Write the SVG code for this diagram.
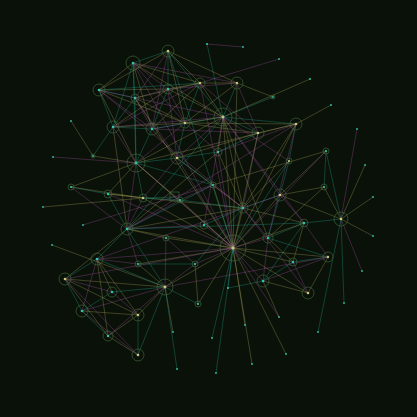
<svg xmlns="http://www.w3.org/2000/svg" width="417" height="417" viewBox="0 0 417 417">
<style>
line{stroke-width:0.55;opacity:0.62}
.t{stroke:#22a38e}.m{stroke:#a04fa2}.k{stroke:#a6a25e}
.ring{fill:none;stroke:#41683a;stroke-width:0.65}
.dot{fill:#2fc4a4}.hub{fill:#c8c878}
</style>
<rect width="417" height="417" fill="#0a1108"/>
<g id="edges">
<line class="t" x1="133" y1="63" x2="168" y2="51"/><line class="k" x1="133" y1="63" x2="99" y2="90"/><line class="t" x1="133" y1="63" x2="135" y2="98"/><line class="m" x1="133" y1="63" x2="168" y2="89"/><line class="k" x1="133" y1="63" x2="200" y2="83"/><line class="m" x1="133" y1="63" x2="237" y2="83"/><line class="t" x1="133" y1="63" x2="113" y2="127"/><line class="k" x1="133" y1="63" x2="152" y2="129"/><line class="m" x1="133" y1="63" x2="185" y2="123"/><line class="k" x1="133" y1="63" x2="223" y2="117"/><line class="t" x1="133" y1="63" x2="136" y2="163"/>
<line class="k" x1="168" y1="51" x2="99" y2="90"/><line class="m" x1="168" y1="51" x2="135" y2="98"/><line class="t" x1="168" y1="51" x2="168" y2="89"/><line class="k" x1="168" y1="51" x2="200" y2="83"/><line class="k" x1="168" y1="51" x2="237" y2="83"/><line class="m" x1="168" y1="51" x2="152" y2="129"/><line class="k" x1="168" y1="51" x2="185" y2="123"/><line class="t" x1="168" y1="51" x2="223" y2="117"/>
<line class="t" x1="99" y1="90" x2="135" y2="98"/><line class="k" x1="99" y1="90" x2="168" y2="89"/><line class="t" x1="99" y1="90" x2="200" y2="83"/><line class="t" x1="99" y1="90" x2="113" y2="127"/><line class="m" x1="99" y1="90" x2="152" y2="129"/><line class="k" x1="99" y1="90" x2="185" y2="123"/><line class="m" x1="99" y1="90" x2="223" y2="117"/><line class="k" x1="99" y1="90" x2="136" y2="163"/>
<line class="m" x1="135" y1="98" x2="168" y2="89"/><line class="k" x1="135" y1="98" x2="200" y2="83"/><line class="t" x1="135" y1="98" x2="113" y2="127"/><line class="m" x1="135" y1="98" x2="152" y2="129"/><line class="k" x1="135" y1="98" x2="185" y2="123"/><line class="m" x1="135" y1="98" x2="177" y2="158"/><line class="t" x1="135" y1="98" x2="136" y2="163"/>
<line class="k" x1="168" y1="89" x2="200" y2="83"/><line class="m" x1="168" y1="89" x2="237" y2="83"/><line class="k" x1="168" y1="89" x2="113" y2="127"/><line class="t" x1="168" y1="89" x2="152" y2="129"/><line class="m" x1="168" y1="89" x2="185" y2="123"/><line class="k" x1="168" y1="89" x2="223" y2="117"/><line class="m" x1="168" y1="89" x2="177" y2="158"/>
<line class="k" x1="200" y1="83" x2="237" y2="83"/><line class="m" x1="200" y1="83" x2="113" y2="127"/><line class="t" x1="200" y1="83" x2="185" y2="123"/><line class="k" x1="200" y1="83" x2="223" y2="117"/><line class="m" x1="200" y1="83" x2="258" y2="133"/><line class="k" x1="200" y1="83" x2="152" y2="129"/><line class="m" x1="200" y1="83" x2="279" y2="59"/>
<line class="t" x1="237" y1="83" x2="223" y2="117"/><line class="k" x1="237" y1="83" x2="185" y2="123"/><line class="k" x1="237" y1="83" x2="273" y2="97"/><line class="m" x1="237" y1="83" x2="258" y2="133"/>
<line class="t" x1="113" y1="127" x2="152" y2="129"/><line class="k" x1="113" y1="127" x2="185" y2="123"/><line class="m" x1="113" y1="127" x2="136" y2="163"/><line class="t" x1="113" y1="127" x2="93" y2="156"/><line class="k" x1="113" y1="127" x2="127" y2="229"/><line class="m" x1="113" y1="127" x2="223" y2="117"/>
<line class="m" x1="152" y1="129" x2="185" y2="123"/><line class="t" x1="152" y1="129" x2="223" y2="117"/><line class="k" x1="152" y1="129" x2="177" y2="158"/><line class="t" x1="152" y1="129" x2="136" y2="163"/><line class="m" x1="152" y1="129" x2="258" y2="133"/>
<line class="k" x1="185" y1="123" x2="223" y2="117"/><line class="t" x1="185" y1="123" x2="177" y2="158"/><line class="m" x1="185" y1="123" x2="136" y2="163"/><line class="k" x1="185" y1="123" x2="258" y2="133"/><line class="m" x1="185" y1="123" x2="218" y2="152"/>
<line class="m" x1="223" y1="117" x2="177" y2="158"/><line class="k" x1="223" y1="117" x2="136" y2="163"/><line class="t" x1="223" y1="117" x2="258" y2="133"/><line class="k" x1="223" y1="117" x2="218" y2="152"/><line class="t" x1="223" y1="117" x2="296" y2="124"/><line class="m" x1="223" y1="117" x2="289" y2="161"/><line class="k" x1="223" y1="117" x2="243" y2="208"/><line class="m" x1="223" y1="117" x2="280" y2="195"/><line class="k" x1="223" y1="117" x2="310" y2="79"/><line class="t" x1="223" y1="117" x2="273" y2="97"/><line class="t" x1="223" y1="117" x2="207" y2="44"/>
<line class="m" x1="207" y1="44" x2="243" y2="47"/><line class="k" x1="331" y1="105" x2="296" y2="124"/>
<line class="k" x1="296" y1="124" x2="258" y2="133"/><line class="t" x1="296" y1="124" x2="289" y2="161"/><line class="m" x1="296" y1="124" x2="218" y2="152"/><line class="k" x1="296" y1="124" x2="185" y2="123"/><line class="m" x1="296" y1="124" x2="127" y2="229"/><line class="k" x1="296" y1="124" x2="243" y2="208"/><line class="k" x1="296" y1="124" x2="136" y2="163"/>
<line class="t" x1="258" y1="133" x2="218" y2="152"/><line class="m" x1="258" y1="133" x2="243" y2="208"/><line class="k" x1="258" y1="133" x2="233" y2="248"/><line class="k" x1="258" y1="133" x2="177" y2="158"/>
<line class="m" x1="218" y1="152" x2="233" y2="248"/><line class="k" x1="218" y1="152" x2="127" y2="229"/><line class="t" x1="218" y1="152" x2="177" y2="158"/><line class="k" x1="218" y1="152" x2="243" y2="208"/>
<line class="t" x1="289" y1="161" x2="280" y2="195"/><line class="k" x1="289" y1="161" x2="243" y2="208"/>
<line class="t" x1="326" y1="151" x2="341" y2="219"/><line class="k" x1="326" y1="151" x2="280" y2="195"/><line class="t" x1="326" y1="151" x2="324" y2="187"/>
<line class="m" x1="357" y1="129" x2="341" y2="219"/><line class="k" x1="365" y1="165" x2="341" y2="219"/><line class="k" x1="373" y1="197" x2="341" y2="219"/><line class="k" x1="373" y1="236" x2="341" y2="219"/><line class="m" x1="362" y1="271" x2="341" y2="219"/><line class="t" x1="344" y1="303" x2="341" y2="219"/><line class="t" x1="318" y1="332" x2="341" y2="219"/><line class="t" x1="304" y1="223" x2="341" y2="219"/><line class="k" x1="324" y1="187" x2="341" y2="219"/><line class="k" x1="324" y1="187" x2="268" y2="238"/>
<line class="t" x1="136" y1="163" x2="177" y2="158"/><line class="k" x1="136" y1="163" x2="108" y2="194"/><line class="t" x1="136" y1="163" x2="143" y2="198"/><line class="m" x1="136" y1="163" x2="127" y2="229"/><line class="k" x1="136" y1="163" x2="71" y2="187"/><line class="m" x1="136" y1="163" x2="180" y2="200"/><line class="k" x1="136" y1="163" x2="175" y2="197"/><line class="t" x1="136" y1="163" x2="213" y2="185"/><line class="k" x1="136" y1="163" x2="93" y2="156"/><line class="m" x1="136" y1="163" x2="53" y2="157"/><line class="k" x1="136" y1="163" x2="233" y2="248"/>
<line class="m" x1="177" y1="158" x2="233" y2="248"/><line class="k" x1="177" y1="158" x2="243" y2="208"/><line class="m" x1="177" y1="158" x2="143" y2="198"/><line class="t" x1="177" y1="158" x2="213" y2="185"/>
<line class="t" x1="71" y1="187" x2="108" y2="194"/><line class="k" x1="71" y1="187" x2="143" y2="198"/><line class="m" x1="71" y1="187" x2="127" y2="229"/>
<line class="k" x1="108" y1="194" x2="143" y2="198"/><line class="m" x1="108" y1="194" x2="233" y2="248"/><line class="k" x1="108" y1="194" x2="243" y2="208"/><line class="t" x1="108" y1="194" x2="127" y2="229"/>
<line class="t" x1="143" y1="198" x2="180" y2="200"/><line class="k" x1="143" y1="198" x2="233" y2="248"/><line class="m" x1="143" y1="198" x2="127" y2="229"/><line class="t" x1="143" y1="198" x2="175" y2="197"/>
<line class="k" x1="43" y1="207" x2="143" y2="198"/><line class="m" x1="83" y1="225" x2="213" y2="185"/><line class="k" x1="52" y1="245" x2="165" y2="287"/><line class="k" x1="93" y1="156" x2="71" y2="121"/>
<line class="t" x1="127" y1="229" x2="97" y2="259"/><line class="k" x1="127" y1="229" x2="233" y2="248"/><line class="m" x1="127" y1="229" x2="204" y2="225"/><line class="k" x1="127" y1="229" x2="243" y2="208"/><line class="t" x1="127" y1="229" x2="213" y2="185"/><line class="m" x1="127" y1="229" x2="180" y2="200"/><line class="k" x1="127" y1="229" x2="166" y2="238"/><line class="m" x1="127" y1="229" x2="138" y2="264"/><line class="k" x1="127" y1="229" x2="65" y2="279"/><line class="t" x1="127" y1="229" x2="165" y2="287"/>
<line class="k" x1="180" y1="200" x2="233" y2="248"/><line class="m" x1="180" y1="200" x2="213" y2="185"/><line class="t" x1="180" y1="200" x2="243" y2="208"/><line class="m" x1="175" y1="197" x2="233" y2="248"/><line class="k" x1="213" y1="185" x2="233" y2="248"/><line class="k" x1="213" y1="185" x2="326" y2="151"/><line class="m" x1="204" y1="225" x2="233" y2="248"/><line class="k" x1="166" y1="238" x2="233" y2="248"/><line class="t" x1="204" y1="225" x2="243" y2="208"/><line class="m" x1="166" y1="238" x2="195" y2="264"/><line class="m" x1="213" y1="185" x2="243" y2="208"/>
<line class="k" x1="243" y1="208" x2="233" y2="248"/><line class="t" x1="243" y1="208" x2="280" y2="195"/><line class="m" x1="243" y1="208" x2="268" y2="238"/><line class="k" x1="243" y1="208" x2="304" y2="223"/>
<line class="k" x1="280" y1="195" x2="233" y2="248"/><line class="m" x1="280" y1="195" x2="304" y2="223"/><line class="t" x1="280" y1="195" x2="268" y2="238"/><line class="k" x1="280" y1="195" x2="324" y2="187"/>
<line class="t" x1="304" y1="223" x2="268" y2="238"/><line class="k" x1="304" y1="223" x2="233" y2="248"/><line class="m" x1="304" y1="223" x2="328" y2="257"/><line class="k" x1="304" y1="223" x2="293" y2="262"/><line class="t" x1="304" y1="223" x2="263" y2="281"/>
<line class="m" x1="268" y1="238" x2="233" y2="248"/><line class="k" x1="268" y1="238" x2="293" y2="262"/><line class="t" x1="268" y1="238" x2="328" y2="257"/><line class="m" x1="268" y1="238" x2="263" y2="281"/>
<line class="k" x1="328" y1="257" x2="233" y2="248"/><line class="t" x1="328" y1="257" x2="293" y2="262"/><line class="m" x1="328" y1="257" x2="263" y2="281"/><line class="k" x1="328" y1="257" x2="308" y2="293"/><line class="m" x1="328" y1="257" x2="165" y2="287"/>
<line class="k" x1="293" y1="262" x2="233" y2="248"/><line class="t" x1="293" y1="262" x2="263" y2="281"/><line class="m" x1="293" y1="262" x2="308" y2="293"/>
<line class="m" x1="263" y1="281" x2="233" y2="248"/><line class="k" x1="263" y1="281" x2="308" y2="293"/><line class="t" x1="263" y1="281" x2="228" y2="288"/><line class="k" x1="308" y1="293" x2="233" y2="248"/><line class="m" x1="308" y1="293" x2="243" y2="208"/>
<line class="t" x1="97" y1="259" x2="65" y2="279"/><line class="k" x1="97" y1="259" x2="112" y2="292"/><line class="m" x1="97" y1="259" x2="82" y2="311"/><line class="k" x1="97" y1="259" x2="138" y2="315"/><line class="t" x1="97" y1="259" x2="165" y2="287"/><line class="m" x1="97" y1="259" x2="138" y2="264"/><line class="k" x1="97" y1="259" x2="108" y2="336"/><line class="m" x1="97" y1="259" x2="233" y2="248"/>
<line class="k" x1="165" y1="287" x2="65" y2="279"/><line class="t" x1="165" y1="287" x2="112" y2="292"/><line class="m" x1="165" y1="287" x2="82" y2="311"/><line class="k" x1="165" y1="287" x2="138" y2="315"/><line class="m" x1="165" y1="287" x2="108" y2="336"/><line class="t" x1="165" y1="287" x2="138" y2="355"/><line class="k" x1="165" y1="287" x2="173" y2="332"/><line class="t" x1="165" y1="287" x2="177" y2="369"/><line class="k" x1="165" y1="287" x2="138" y2="264"/><line class="m" x1="165" y1="287" x2="195" y2="264"/><line class="t" x1="165" y1="287" x2="198" y2="304"/><line class="k" x1="165" y1="287" x2="233" y2="248"/><line class="m" x1="165" y1="287" x2="166" y2="238"/>
<line class="t" x1="65" y1="279" x2="82" y2="311"/><line class="k" x1="65" y1="279" x2="108" y2="336"/><line class="m" x1="65" y1="279" x2="138" y2="355"/><line class="k" x1="65" y1="279" x2="138" y2="315"/><line class="m" x1="65" y1="279" x2="112" y2="292"/>
<line class="t" x1="82" y1="311" x2="108" y2="336"/><line class="k" x1="82" y1="311" x2="138" y2="315"/><line class="m" x1="82" y1="311" x2="138" y2="355"/><line class="t" x1="82" y1="311" x2="112" y2="292"/>
<line class="t" x1="138" y1="315" x2="138" y2="355"/><line class="k" x1="138" y1="315" x2="108" y2="336"/><line class="m" x1="138" y1="315" x2="112" y2="292"/><line class="k" x1="108" y1="336" x2="138" y2="355"/>
<line class="t" x1="138" y1="264" x2="195" y2="264"/><line class="k" x1="138" y1="264" x2="233" y2="248"/><line class="k" x1="195" y1="264" x2="198" y2="304"/><line class="m" x1="195" y1="264" x2="233" y2="248"/><line class="t" x1="195" y1="264" x2="243" y2="208"/><line class="k" x1="198" y1="304" x2="233" y2="248"/>
<line class="k" x1="233" y1="248" x2="245" y2="325"/><line class="t" x1="233" y1="248" x2="212" y2="338"/><line class="t" x1="233" y1="248" x2="216" y2="373"/><line class="k" x1="233" y1="248" x2="252" y2="364"/><line class="k" x1="233" y1="248" x2="286" y2="354"/><line class="m" x1="233" y1="248" x2="279" y2="317"/><line class="t" x1="233" y1="248" x2="228" y2="288"/><line class="k" x1="263" y1="281" x2="279" y2="317"/>
<line class="m" x1="133" y1="63" x2="233" y2="248"/><line class="k" x1="135" y1="98" x2="233" y2="248"/><line class="t" x1="168" y1="51" x2="233" y2="248"/><line class="m" x1="200" y1="83" x2="233" y2="248"/><line class="k" x1="223" y1="117" x2="233" y2="248"/><line class="m" x1="99" y1="90" x2="243" y2="208"/><line class="t" x1="223" y1="117" x2="127" y2="229"/><line class="k" x1="223" y1="117" x2="268" y2="238"/><line class="m" x1="223" y1="117" x2="304" y2="223"/><line class="k" x1="237" y1="83" x2="233" y2="248"/><line class="m" x1="296" y1="124" x2="268" y2="238"/><line class="t" x1="289" y1="161" x2="233" y2="248"/><line class="m" x1="326" y1="151" x2="233" y2="248"/><line class="k" x1="296" y1="124" x2="233" y2="248"/><line class="m" x1="204" y1="225" x2="223" y2="117"/><line class="m" x1="280" y1="195" x2="97" y2="259"/><line class="t" x1="304" y1="223" x2="127" y2="229"/><line class="k" x1="341" y1="219" x2="280" y2="195"/><line class="m" x1="65" y1="279" x2="233" y2="248"/>
</g>
<g id="nodes">
<g id="n1"><circle class="ring" cx="133" cy="63" r="7"/><circle class="dot" cx="133" cy="63" r="1.3"/></g>
<g id="n2"><circle class="ring" cx="168" cy="51" r="6"/><circle class="hub" cx="168" cy="51" r="1.3"/></g>
<g id="n3"><circle class="ring" cx="99" cy="90" r="6"/><circle class="dot" cx="99" cy="90" r="1.3"/></g>
<g id="n4"><circle class="ring" cx="135" cy="98" r="4"/><circle class="dot" cx="135" cy="98" r="1.2"/></g>
<g id="n5"><circle class="ring" cx="168" cy="89" r="5"/><circle class="dot" cx="168" cy="89" r="1.2"/></g>
<g id="n6"><circle class="ring" cx="200" cy="83" r="5"/><circle class="hub" cx="200" cy="83" r="1.2"/></g>
<g id="n7"><circle class="ring" cx="237" cy="83" r="6"/><circle class="hub" cx="237" cy="83" r="1.2"/></g>
<g id="n8"><circle class="ring" cx="113" cy="127" r="6"/><circle class="dot" cx="113" cy="127" r="1.3"/></g>
<g id="n9"><circle class="ring" cx="152" cy="129" r="6"/><circle class="dot" cx="152" cy="129" r="1.3"/></g>
<g id="n10"><circle class="ring" cx="185" cy="123" r="5"/><circle class="hub" cx="185" cy="123" r="1.2"/></g>
<g id="n11"><circle class="ring" cx="223" cy="117" r="9"/><circle class="hub" cx="223" cy="117" r="1.4"/></g>
<g id="n12"><circle class="ring" cx="177" cy="158" r="6"/><circle class="hub" cx="177" cy="158" r="1.3"/></g>
<g id="n13"><circle class="ring" cx="136" cy="163" r="9"/><circle class="dot" cx="136" cy="163" r="1.4"/></g>
<g id="n14"><circle class="dot" cx="207" cy="44" r="1.1"/></g>
<g id="n15"><circle class="dot" cx="243" cy="47" r="0.9"/></g>
<g id="n16"><circle class="dot" cx="279" cy="59" r="0.9"/></g>
<g id="n17"><circle class="dot" cx="310" cy="79" r="1"/></g>
<g id="n18"><circle class="ring" cx="273" cy="97" r="2"/><circle class="dot" cx="273" cy="97" r="0.9"/></g>
<g id="n19"><circle class="dot" cx="331" cy="105" r="0.9"/></g>
<g id="n20"><circle class="ring" cx="296" cy="124" r="6"/><circle class="hub" cx="296" cy="124" r="1.3"/></g>
<g id="n21"><circle class="ring" cx="258" cy="133" r="6"/><circle class="hub" cx="258" cy="133" r="1.3"/></g>
<g id="n22"><circle class="ring" cx="218" cy="152" r="4"/><circle class="dot" cx="218" cy="152" r="1.2"/></g>
<g id="n23"><circle class="ring" cx="289" cy="161" r="3"/><circle class="hub" cx="289" cy="161" r="1.1"/></g>
<g id="n24"><circle class="ring" cx="326" cy="151" r="3"/><circle class="dot" cx="326" cy="151" r="1.1"/></g>
<g id="n25"><circle class="dot" cx="357" cy="129" r="0.9"/></g>
<g id="n26"><circle class="dot" cx="365" cy="165" r="0.9"/></g>
<g id="n27"><circle class="ring" cx="71" cy="187" r="3"/><circle class="dot" cx="71" cy="187" r="1.1"/></g>
<g id="n28"><circle class="ring" cx="108" cy="194" r="4"/><circle class="dot" cx="108" cy="194" r="1.2"/></g>
<g id="n29"><circle class="ring" cx="143" cy="198" r="4"/><circle class="hub" cx="143" cy="198" r="1.2"/></g>
<g id="n30"><rect class="ring" x="170" y="192" width="9" height="9"/></g>
<g id="n31"><circle class="ring" cx="180" cy="200" r="3"/><circle class="dot" cx="180" cy="200" r="1.1"/></g>
<g id="n32"><circle class="dot" cx="43" cy="207" r="0.9"/></g>
<g id="n33"><circle class="dot" cx="83" cy="225" r="0.9"/></g>
<g id="n34"><circle class="ring" cx="127" cy="229" r="6"/><circle class="dot" cx="127" cy="229" r="1.3"/></g>
<g id="n35"><circle class="ring" cx="166" cy="238" r="3"/><circle class="dot" cx="166" cy="238" r="1.1"/></g>
<g id="n36"><circle class="ring" cx="204" cy="225" r="4"/><circle class="dot" cx="204" cy="225" r="1.2"/></g>
<g id="n37"><circle class="ring" cx="213" cy="185" r="3"/><circle class="dot" cx="213" cy="185" r="1.1"/></g>
<g id="n38"><circle class="ring" cx="243" cy="208" r="5"/><circle class="dot" cx="243" cy="208" r="1.2"/></g>
<g id="n39"><circle class="ring" cx="280" cy="195" r="6"/><circle class="hub" cx="280" cy="195" r="1.3"/></g>
<g id="n40"><circle class="ring" cx="324" cy="187" r="3"/><circle class="dot" cx="324" cy="187" r="1.1"/></g>
<g id="n41"><circle class="dot" cx="373" cy="197" r="0.9"/></g>
<g id="n42"><circle class="ring" cx="341" cy="219" r="7"/><circle class="hub" cx="341" cy="219" r="1.3"/></g>
<g id="n43"><circle class="ring" cx="304" cy="223" r="4"/><circle class="dot" cx="304" cy="223" r="1.2"/></g>
<g id="n44"><circle class="ring" cx="268" cy="238" r="5"/><circle class="dot" cx="268" cy="238" r="1.2"/></g>
<g id="n45"><circle class="ring" cx="233" cy="248" r="13"/><circle class="hub" cx="233" cy="248" r="1.6"/></g>
<g id="n46"><circle class="dot" cx="373" cy="236" r="0.9"/></g>
<g id="n47"><circle class="ring" cx="328" cy="257" r="5"/><circle class="hub" cx="328" cy="257" r="1.2"/></g>
<g id="n48"><circle class="ring" cx="293" cy="262" r="4"/><circle class="dot" cx="293" cy="262" r="1.2"/></g>
<g id="n49"><circle class="ring" cx="263" cy="281" r="6"/><circle class="dot" cx="263" cy="281" r="1.3"/></g>
<g id="n50"><circle class="dot" cx="362" cy="271" r="0.9"/></g>
<g id="n51"><circle class="dot" cx="52" cy="245" r="0.9"/></g>
<g id="n52"><circle class="ring" cx="97" cy="259" r="6"/><circle class="dot" cx="97" cy="259" r="1.3"/></g>
<g id="n53"><circle class="ring" cx="138" cy="264" r="3"/><circle class="dot" cx="138" cy="264" r="1.1"/></g>
<g id="n54"><circle class="ring" cx="195" cy="264" r="3"/><circle class="dot" cx="195" cy="264" r="1.1"/></g>
<g id="n55"><circle class="ring" cx="65" cy="279" r="6"/><circle class="hub" cx="65" cy="279" r="1.3"/></g>
<g id="n56"><circle class="ring" cx="165" cy="287" r="8"/><circle class="hub" cx="165" cy="287" r="1.4"/></g>
<g id="n57"><circle class="ring" cx="112" cy="292" r="5"/><circle class="dot" cx="112" cy="292" r="1.2"/></g>
<g id="n58"><circle class="ring" cx="82" cy="311" r="6"/><circle class="dot" cx="82" cy="311" r="1.3"/></g>
<g id="n59"><circle class="ring" cx="138" cy="315" r="6"/><circle class="hub" cx="138" cy="315" r="1.3"/></g>
<g id="n60"><circle class="ring" cx="198" cy="304" r="3"/><circle class="dot" cx="198" cy="304" r="1.1"/></g>
<g id="n61"><circle class="ring" cx="108" cy="336" r="5"/><circle class="dot" cx="108" cy="336" r="1.2"/></g>
<g id="n62"><circle class="dot" cx="173" cy="332" r="0.9"/></g>
<g id="n63"><circle class="ring" cx="138" cy="355" r="6"/><circle class="hub" cx="138" cy="355" r="1.3"/></g>
<g id="n64"><circle class="dot" cx="177" cy="369" r="0.9"/></g>
<g id="n65"><circle class="ring" cx="308" cy="293" r="6"/><circle class="hub" cx="308" cy="293" r="1.3"/></g>
<g id="n66"><circle class="dot" cx="228" cy="288" r="1"/></g>
<g id="n67"><circle class="dot" cx="344" cy="303" r="0.9"/></g>
<g id="n68"><circle class="dot" cx="279" cy="317" r="0.9"/></g>
<g id="n69"><circle class="dot" cx="318" cy="332" r="0.9"/></g>
<g id="n70"><circle class="dot" cx="245" cy="325" r="0.9"/></g>
<g id="n71"><circle class="dot" cx="212" cy="338" r="0.9"/></g>
<g id="n72"><circle class="dot" cx="286" cy="354" r="0.9"/></g>
<g id="n73"><circle class="dot" cx="252" cy="364" r="0.9"/></g>
<g id="n74"><circle class="dot" cx="216" cy="373" r="0.9"/></g>
<g id="n75"><circle class="ring" cx="93" cy="156" r="2"/><circle class="dot" cx="93" cy="156" r="0.9"/></g>
<g id="n76"><circle class="dot" cx="71" cy="121" r="0.9"/></g>
<g id="n77"><circle class="dot" cx="53" cy="157" r="0.9"/></g>
</g>
</svg>
